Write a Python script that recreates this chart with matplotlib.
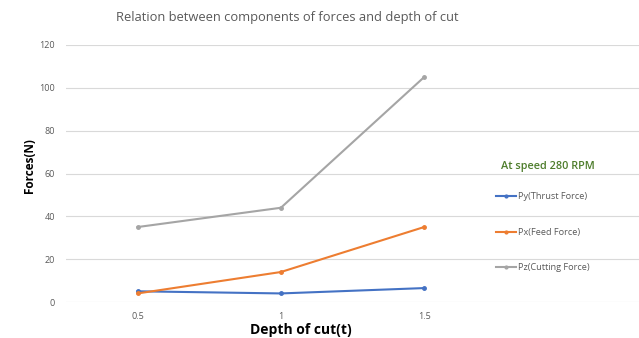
import matplotlib.pyplot as plt
import numpy as np

depth = ['0.5', '1', '1.5']
py_thrust = [5, 4, 6.5]
px_feed = [4, 14, 35]
pz_cutting = [35, 44, 105]
yticks = [0, 20, 40, 60, 80, 100, 120]

plt.rcParams['font.family'] = ['Open Sans', 'DejaVu Sans']

fig = plt.figure(figsize=(6.39, 3.38), dpi=100)
ax = fig.add_axes([66 / 639, 36 / 338, 573 / 639, 257 / 338])

x = np.arange(len(depth))
ax.plot(x, py_thrust, color='#4472C4', lw=1.5, marker='o', ms=2.5, label='Py(Thrust Force)')
ax.plot(x, px_feed, color='#ED7D31', lw=1.5, marker='o', ms=2.5, label='Px(Feed Force)')
ax.plot(x, pz_cutting, color='#A5A5A5', lw=1.5, marker='o', ms=2.5, label='Pz(Cutting Force)')

ax.set_xlim(-0.5, 3.5)
ax.set_ylim(0, 120)
ax.set_xticks(x)
ax.set_xticklabels(depth)
ax.set_yticks(yticks)
ax.tick_params(length=0, labelsize=6.5, colors='#595959')
ax.tick_params(axis='y', pad=8)
ax.tick_params(axis='x', pad=7)
ax.grid(axis='y', color='#d9d9d9', lw=0.8)
ax.set_axisbelow(True)
for s in ax.spines.values():
    s.set_visible(False)

fig.text(287 / 639, 1 - 18 / 338, 'Relation between components of forces and depth of cut',
         ha='center', va='center', fontsize=9.3, color='#595959')
fig.text(30 / 639, 1 - 166 / 338, 'Forces(N)', rotation=90, ha='center', va='center',
         fontsize=8.5, fontweight='bold', color='black')
fig.text(301 / 639, 1 - 330 / 338, 'Depth of cut(t)', ha='center', va='center',
         fontsize=10, fontweight='bold', color='black')
fig.text(501 / 639, 1 - 167 / 338, 'At speed 280 RPM', ha='left', va='center',
         fontsize=7.8, fontweight='semibold', color='#4E7D2C')

ax.legend(loc='upper left', bbox_to_anchor=(488 / 639, 1 - 184 / 338),
          bbox_transform=fig.transFigure, frameon=False, fontsize=6.6,
          labelspacing=2.9, handlelength=2.2, handletextpad=0.2,
          labelcolor='#595959', markerscale=0.8)

fig.savefig('out.png', dpi=100)
